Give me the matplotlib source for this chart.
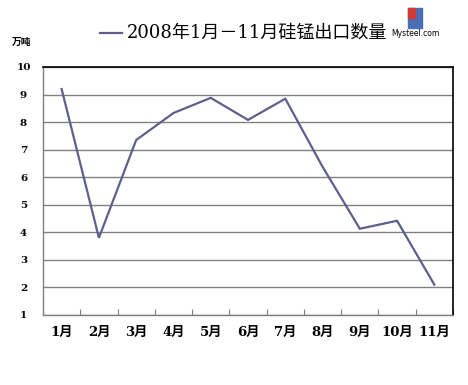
import matplotlib
matplotlib.use("Agg")
import matplotlib.pyplot as plt
from matplotlib.patches import Rectangle

# silicomanganese exports, 10k tonnes, Jan-Nov 2008
months = ["1月", "2月", "3月", "4月", "5月", "6月", "7月", "8月", "9月", "10月", "11月"]
values = [9.2, 3.8, 7.35, 8.33, 8.88, 8.08, 8.85, 6.38, 4.13, 4.42, 2.1]
y_ticks = [1, 2, 3, 4, 5, 6, 7, 8, 9, 10]

line_color = "#5f5f8f"
grid_color = "#808080"
lab_font = ["DejaVu Serif", "Noto Sans CJK SC"]

fig = plt.figure(figsize=(4.68, 3.85), dpi=100)
ax = fig.add_axes([43 / 468, 70 / 385, 410 / 468, 248 / 385])

x = list(range(len(months)))
ax.plot(x, values, color=line_color, lw=1.6, solid_joinstyle="miter")

ax.set_xlim(-0.5, len(months) - 0.5)
ax.set_ylim(1, 10)
ax.set_yticks(y_ticks)
ax.set_yticklabels([str(v) for v in y_ticks], family=lab_font,
                   fontweight="bold", fontsize=7.5)
ax.tick_params(axis="y", length=0, pad=14)
for lab in ax.get_yticklabels():
    lab.set_horizontalalignment("center")

ax.set_xticks(x)
ax.set_xticklabels(months, family=lab_font, fontweight="bold", fontsize=9.5)
ax.tick_params(axis="x", length=0, pad=8)
# category boundary ticks pointing into the plot
ax.set_xticks([i - 0.5 for i in range(len(months) + 1)], minor=True)
ax.tick_params(axis="x", which="minor", direction="in", length=4,
               color=grid_color, width=0.8)

ax.grid(axis="y", color=grid_color, lw=1)
ax.set_axisbelow(True)
for side in ["left", "bottom"]:
    ax.spines[side].set_color(grid_color)
    ax.spines[side].set_linewidth(1)
for side in ["top", "right"]:
    ax.spines[side].set_color("black")
    ax.spines[side].set_linewidth(1.2)

# unit label
fig.text(12 / 468, 1 - 42 / 385, "万吨", family=["Noto Sans CJK SC"],
         fontweight="bold", fontsize=7, va="center", ha="left")

# legend-style title
fig.add_artist(plt.Line2D([100 / 468, 122 / 468], [1 - 33 / 385, 1 - 33 / 385],
                          color=line_color, lw=1.6))
fig.text(127 / 468, 1 - 33 / 385, "2008年1月－11月硅锰出口数量",
         family=["DejaVu Serif", "Noto Sans CJK SC"], fontsize=13,
         va="center", ha="left")

# Mysteel logo
fig.add_artist(Rectangle((408 / 468, 1 - 28 / 385), 14 / 468, 20 / 385,
                         transform=fig.transFigure, color="#4a6fb5"))
fig.add_artist(Rectangle((408 / 468, 1 - 18 / 385), 7 / 468, 10 / 385,
                         transform=fig.transFigure, color="#d23a3a"))
fig.text(415 / 468, 1 - 34 / 385, "Mysteel.com", fontsize=5.5,
         ha="center", va="center", family="DejaVu Sans")

fig.savefig("out.png", dpi=100, facecolor="white")
